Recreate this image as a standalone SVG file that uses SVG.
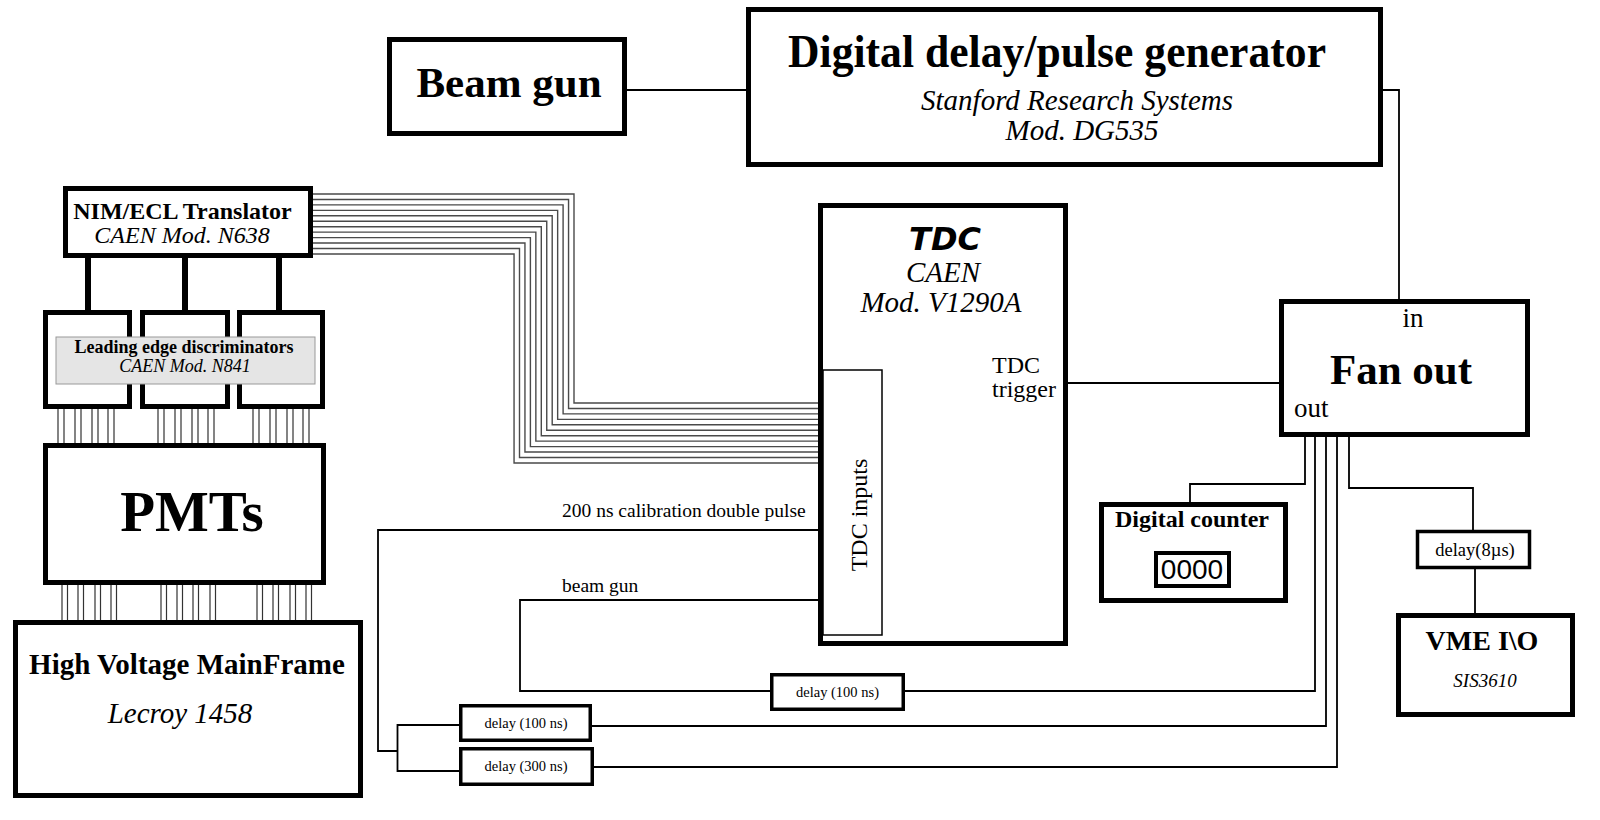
<svg xmlns="http://www.w3.org/2000/svg" width="1600" height="820" viewBox="0 0 1600 820">
<defs>
<style>
.box{fill:#fff;stroke:#000;stroke-width:5}
.dbox{fill:#fff;stroke:#000;stroke-width:3.5}
.thin{fill:#fff;stroke:#000;stroke-width:1.5}
.ln{fill:none;stroke:#000;stroke-width:1.8}
.thick{fill:none;stroke:#000;stroke-width:6}
.bus{fill:none;stroke:#4a4a4a;stroke-width:1.4}
.cab{fill:#fff;stroke:#333;stroke-width:1.2}
.s{font-family:"Liberation Serif","Times New Roman",serif;fill:#000}
.b{font-weight:bold}
.i{font-style:italic}
.m{text-anchor:middle}
</style>
</defs>
<rect width="1600" height="820" fill="#fff"/>

<g id="connectors">
<path class="ln" d="M627 90 H746"/>
<path class="ln" d="M1383 90 H1399 V299"/>
<path class="ln" d="M1068 383 H1279"/>
<path class="ln" d="M1305 437 V484 H1190 V502"/>
<path class="ln" d="M1315 437 V691 H905"/>
<path class="ln" d="M1326 437 V726 H592"/>
<path class="ln" d="M1337 437 V767 H594"/>
<path class="ln" d="M1349 437 V488 H1473 V530"/>
<path class="ln" d="M1475 569 V613"/>
<path class="ln" d="M770 691 H520 V600 H818"/>
<path class="ln" d="M818 530 H378 V751 H397.5"/>
<path class="ln" d="M459 725 H397.5 V771 H459"/>
<path class="thick" d="M88 258 V310 M185 258 V310 M279 258 V310"/>
<g id="bundle">
<path class="bus" d="M313 194 H574 V403 H819"/>
<path class="bus" d="M313 199.45 H568.55 V408.45 H819"/>
<path class="bus" d="M313 204.9 H563.1 V413.9 H819"/>
<path class="bus" d="M313 210.35 H557.65 V419.35 H819"/>
<path class="bus" d="M313 215.8 H552.2 V424.8 H819"/>
<path class="bus" d="M313 221.25 H546.75 V430.25 H819"/>
<path class="bus" d="M313 226.7 H541.3 V435.7 H819"/>
<path class="bus" d="M313 232.15 H535.85 V441.15 H819"/>
<path class="bus" d="M313 237.6 H530.4 V446.6 H819"/>
<path class="bus" d="M313 243.05 H524.95 V452.05 H819"/>
<path class="bus" d="M313 248.5 H519.5 V457.5 H819"/>
<path class="bus" d="M313 253.95 H514.05 V462.95 H819"/>
</g>
<g id="cables-disc-pmt">
<rect class="cab" x="58" y="408" width="6" height="36"/>
<rect class="cab" x="75" y="408" width="6" height="36"/>
<rect class="cab" x="92" y="408" width="6" height="36"/>
<rect class="cab" x="108" y="408" width="6" height="36"/>
<rect class="cab" x="158" y="408" width="6" height="36"/>
<rect class="cab" x="175" y="408" width="6" height="36"/>
<rect class="cab" x="192" y="408" width="6" height="36"/>
<rect class="cab" x="208" y="408" width="6" height="36"/>
<rect class="cab" x="253" y="408" width="6" height="36"/>
<rect class="cab" x="270" y="408" width="6" height="36"/>
<rect class="cab" x="287" y="408" width="6" height="36"/>
<rect class="cab" x="303" y="408" width="6" height="36"/>
</g>
<g id="cables-pmt-hv">
<rect class="cab" x="62" y="584" width="5.5" height="37"/>
<rect class="cab" x="78" y="584" width="5.5" height="37"/>
<rect class="cab" x="95" y="584" width="5.5" height="37"/>
<rect class="cab" x="111" y="584" width="5.5" height="37"/>
<rect class="cab" x="161" y="584" width="5.5" height="37"/>
<rect class="cab" x="177" y="584" width="5.5" height="37"/>
<rect class="cab" x="193" y="584" width="5.5" height="37"/>
<rect class="cab" x="210" y="584" width="5.5" height="37"/>
<rect class="cab" x="257" y="584" width="5.5" height="37"/>
<rect class="cab" x="273" y="584" width="5.5" height="37"/>
<rect class="cab" x="290" y="584" width="5.5" height="37"/>
<rect class="cab" x="306" y="584" width="5.5" height="37"/>
</g>
</g>

<g id="beam-gun">
<rect class="box" x="389.5" y="39.5" width="235" height="94"/>
<text class="s b m" x="509" y="97" font-size="43">Beam gun</text>
</g>

<g id="pulse-generator">
<rect class="box" x="748.5" y="9.5" width="632" height="155"/>
<text class="s b m" x="1057" y="67" font-size="47" textLength="538" lengthAdjust="spacingAndGlyphs">Digital delay/pulse generator</text>
<text class="s i m" x="1077" y="110" font-size="29">Stanford Research Systems</text>
<text class="s i m" x="1082" y="140" font-size="29">Mod. DG535</text>
</g>

<g id="translator">
<rect class="box" x="65.5" y="188.5" width="245" height="67"/>
<text class="s b m" x="182.5" y="219" font-size="24">NIM/ECL Translator</text>
<text class="s i m" x="182" y="243" font-size="24">CAEN Mod. N638</text>
</g>

<g id="discriminators">
<rect class="box" x="45.5" y="312.5" width="84" height="94"/>
<rect class="box" x="142.5" y="312.5" width="85" height="94"/>
<rect class="box" x="239.5" y="312.5" width="83" height="94"/>
<rect x="56" y="337" width="259" height="47" fill="#e5e5e5" stroke="#999" stroke-width="1"/>
<text class="s b m" x="184" y="353" font-size="18">Leading edge discriminators</text>
<text class="s i m" x="185" y="372" font-size="18">CAEN Mod. N841</text>
</g>

<g id="pmts">
<rect class="box" x="45.5" y="445.5" width="278" height="137"/>
<text class="s b m" x="192" y="531" font-size="57">PMTs</text>
</g>

<g id="hv-mainframe">
<rect class="box" x="15.5" y="622.5" width="345" height="173"/>
<text class="s b m" x="187" y="674" font-size="29">High Voltage MainFrame</text>
<text class="s i m" x="180" y="723" font-size="29">Lecroy 1458</text>
</g>

<g id="tdc">
<rect class="box" x="820.5" y="205.5" width="245" height="438"/>
<rect class="thin" x="823" y="370" width="59" height="265"/>
<text class="m" x="945" y="250" font-size="32" font-family="'DejaVu Sans',Verdana,sans-serif" font-weight="bold" font-style="italic">TDC</text>
<text class="s i m" x="943" y="282" font-size="29">CAEN</text>
<text class="s i m" x="941" y="312" font-size="29">Mod. V1290A</text>
<text class="s" x="992" y="373" font-size="24">TDC</text>
<text class="s" x="992" y="397" font-size="24">trigger</text>
<text class="s m" transform="translate(867,515) rotate(-90)" font-size="24">TDC inputs</text>
</g>

<g id="labels">
<text class="s" x="562" y="517" font-size="19.5">200 ns calibration double pulse</text>
<text class="s" x="562" y="592" font-size="19.5">beam gun</text>
</g>

<g id="delay-100-a">
<rect class="dbox" x="460.75" y="705.75" width="129.5" height="34.5"/>
<text class="s m" x="526" y="728" font-size="14.5">delay (100 ns)</text>
</g>
<g id="delay-300">
<rect class="dbox" x="460.75" y="748.75" width="131.5" height="35.5"/>
<text class="s m" x="526" y="771" font-size="14.5">delay (300 ns)</text>
</g>
<g id="delay-100-b">
<rect class="dbox" x="771.75" y="674.75" width="131.5" height="34.5"/>
<text class="s m" x="837.5" y="697" font-size="14.5">delay (100 ns)</text>
</g>

<g id="fan-out">
<rect class="box" x="1281.5" y="301.5" width="246" height="133"/>
<text class="s m" x="1413" y="327" font-size="27">in</text>
<text class="s b m" x="1401" y="384" font-size="43">Fan out</text>
<text class="s" x="1294" y="417" font-size="27">out</text>
</g>

<g id="digital-counter">
<rect class="box" x="1101.5" y="504.5" width="184" height="96"/>
<text class="s b m" x="1192" y="527" font-size="24">Digital counter</text>
<rect x="1156" y="553" width="73" height="33" fill="#fff" stroke="#000" stroke-width="4"/>
<text class="m" x="1192" y="579" font-size="28" font-family="'Liberation Sans',Arial,sans-serif">0000</text>
</g>

<g id="delay-8us">
<rect class="dbox" x="1417.5" y="531.5" width="112" height="36"/>
<text class="s m" x="1475" y="556" font-size="18.5">delay(8µs)</text>
</g>

<g id="vme-io">
<rect class="box" x="1398.5" y="615.5" width="174" height="99"/>
<text class="s b m" x="1482" y="650" font-size="28">VME I\O</text>
<text class="s i m" x="1485" y="687" font-size="19">SIS3610</text>
</g>
</svg>
